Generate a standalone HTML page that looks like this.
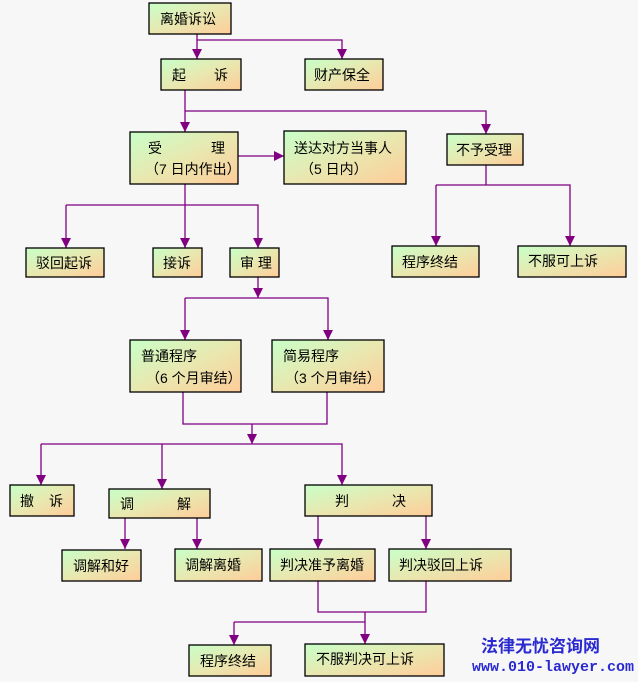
<!DOCTYPE html>
<html><head><meta charset="utf-8"><style>
body{margin:0;background:#f7f7f7;}
svg{display:block}
text{font-family:"Liberation Sans","Noto Sans CJK SC","WenQuanYi Zen Hei",sans-serif;font-size:14px;fill:#000}
</style></head><body>
<svg width="638" height="682" viewBox="0 0 638 682" xmlns="http://www.w3.org/2000/svg">
<defs>
<linearGradient id="g" x1="0" y1="0" x2="1" y2="1">
<stop offset="0" stop-color="#c8ffc8"/><stop offset="0.5" stop-color="#e8e8b0"/><stop offset="1" stop-color="#ffcc99"/>
</linearGradient>
</defs>
<g fill="none" stroke="#800080" stroke-width="1.3">
<path d="M197,34 V59"/>
<path d="M197,40 H342 V59"/>
<path d="M185,90 V132"/>
<path d="M185,111 H486 V134"/>
<path d="M238,156 H284"/>
<path d="M185,184 V248"/>
<path d="M66,205 H258 V248"/>
<path d="M66,205 V248"/>
<path d="M486,165 V185"/>
<path d="M436,185 H570 V246"/>
<path d="M436,185 V246"/>
<path d="M258,277 V298"/>
<path d="M185,298 H328 V340"/>
<path d="M185,298 V340"/>
<path d="M183,392 V424 H327 V392"/>
<path d="M252,424 V444"/>
<path d="M41,444 H342 V485"/>
<path d="M41,444 V485"/>
<path d="M162,444 V489"/>
<path d="M125,518 V549"/>
<path d="M197,518 V549"/>
<path d="M318,516 V549"/>
<path d="M426,516 V549"/>
<path d="M318,581 V612 H426 V581"/>
<path d="M365,612 V644"/>
<path d="M234,622 H365"/>
<path d="M234,622 V645"/>
</g>
<g fill="#800080">
<polygon points="192,49 202,49 197,59"/>
<polygon points="337,49 347,49 342,59"/>
<polygon points="180,122 190,122 185,132"/>
<polygon points="481,124 491,124 486,134"/>
<polygon points="274,151 284,156 274,161"/>
<polygon points="180,238 190,238 185,248"/>
<polygon points="61,238 71,238 66,248"/>
<polygon points="253,238 263,238 258,248"/>
<polygon points="431,236 441,236 436,246"/>
<polygon points="565,236 575,236 570,246"/>
<polygon points="253,288 263,288 258,298"/>
<polygon points="180,330 190,330 185,340"/>
<polygon points="323,330 333,330 328,340"/>
<polygon points="247,434 257,434 252,444"/>
<polygon points="36,475 46,475 41,485"/>
<polygon points="157,479 167,479 162,489"/>
<polygon points="337,475 347,475 342,485"/>
<polygon points="120,539 130,539 125,549"/>
<polygon points="192,539 202,539 197,549"/>
<polygon points="313,539 323,539 318,549"/>
<polygon points="421,539 431,539 426,549"/>
<polygon points="360,634 370,634 365,644"/>
<polygon points="229,635 239,635 234,645"/>
</g>
<g fill="url(#g)" stroke="#000" stroke-width="1.3">
<rect x="149" y="3" width="82" height="31"/>
<rect x="161" y="59" width="80" height="31"/>
<rect x="305" y="59" width="78" height="31"/>
<rect x="130" y="132" width="108" height="52"/>
<rect x="284" y="131" width="122" height="53"/>
<rect x="447" y="134" width="76" height="31"/>
<rect x="26" y="248" width="78" height="29"/>
<rect x="153" y="248" width="49" height="29"/>
<rect x="230" y="248" width="49" height="29"/>
<rect x="392" y="246" width="87" height="31"/>
<rect x="518" y="246" width="108" height="31"/>
<rect x="130" y="340" width="111" height="52"/>
<rect x="272" y="340" width="112" height="52"/>
<rect x="10" y="485" width="64" height="31"/>
<rect x="109" y="489" width="101" height="29"/>
<rect x="305" y="485" width="127" height="31"/>
<rect x="62" y="550" width="79" height="31"/>
<rect x="175" y="549" width="87" height="32"/>
<rect x="270" y="549" width="105" height="32"/>
<rect x="389" y="549" width="122" height="32"/>
<rect x="189" y="645" width="82" height="31"/>
<rect x="305" y="644" width="139" height="32"/>
</g>
<text x="160" y="24">离婚诉讼</text>
<text x="172" y="80">起</text><text x="214" y="80">诉</text>
<text x="314" y="80">财产保全</text>
<text x="148" y="153">受</text><text x="211" y="153">理</text>
<text x="145" y="174">（7 日内作出）</text>
<text x="294" y="153">送达对方当事人</text>
<text x="300" y="174">（5 日内）</text>
<text x="456" y="155">不予受理</text>
<text x="36" y="268">驳回起诉</text>
<text x="163" y="268">接诉</text>
<text x="240" y="268">审 理</text>
<text x="402" y="267">程序终结</text>
<text x="528" y="266">不服可上诉</text>
<text x="141" y="361">普通程序</text>
<text x="146" y="383">（6 个月审结）</text>
<text x="283" y="361">简易程序</text>
<text x="285" y="383">（3 个月审结）</text>
<text x="20" y="506">撤</text><text x="49" y="506">诉</text>
<text x="120" y="509">调</text><text x="177" y="509">解</text>
<text x="335" y="506">判</text><text x="392" y="506">决</text>
<text x="73" y="571">调解和好</text>
<text x="185" y="570">调解离婚</text>
<text x="280" y="570">判决准予离婚</text>
<text x="399" y="570">判决驳回上诉</text>
<text x="200" y="666">程序终结</text>
<text x="316" y="664">不服判决可上诉</text>
<text x="481" y="652" style="font-size:17px;font-weight:bold;fill:#2a2ad0">法律无忧咨询网</text>
<text x="472" y="671" style="font-family:'Liberation Mono',monospace;font-size:15px;font-weight:bold;fill:#2a2ad0">www.010-lawyer.com</text>
</svg>
</body></html>
